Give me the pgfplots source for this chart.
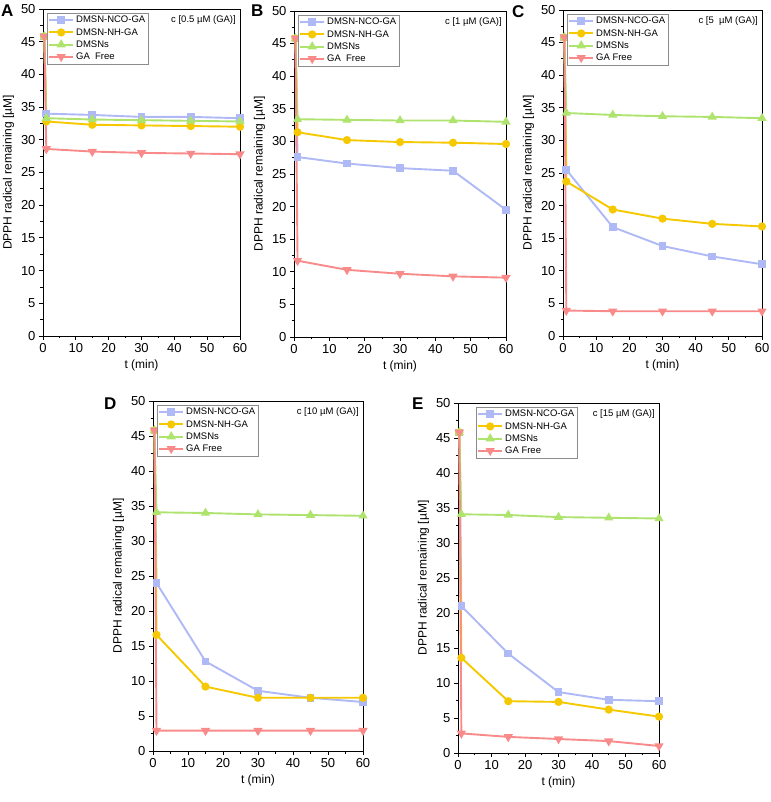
\documentclass[border=0pt]{standalone}
\usepackage{fontspec}
\setmainfont{Liberation Sans}
\usepackage{pgfplots}
\pgfplotsset{compat=1.18}

\definecolor{cNCO}{HTML}{AEB9F5}
\definecolor{cNH}{HTML}{F5C800}
\definecolor{cDM}{HTML}{AEE36E}
\definecolor{cGA}{HTML}{F98A8A}

\pgfplotsset{
  panel/.style={
    scale only axis,
    anchor=south west,
    xmin=0, xmax=60, ymin=0, ymax=50,
    xtick={0,10,...,60}, ytick={0,5,...,50},
    minor x tick num=1, minor y tick num=1,
    tick align=outside, tick pos=left,
    major tick length=4pt, minor tick length=2.5pt,
    tick style={black, line width=0.8pt},
    axis line style={black, line width=0.9pt},
    /pgf/number format/assume math mode=true,
    ticklabel style={font=\fontsize{13}{15}\selectfont},
    label style={font=\fontsize{12}{14}\selectfont},
    xlabel={t (min)},
    ylabel={DPPH radical remaining [µM]},
    legend cell align=left,
    legend style={at={(0,1)}, anchor=north west, xshift=4pt, yshift=-4pt,
      draw=black!45, line width=0.5pt, inner sep=1pt,
      font=\fontsize{9.5}{10}\selectfont, row sep=0pt},
    legend image code/.code={
      \draw[mark repeat=2, mark phase=2, #1]
        plot coordinates {(0pt,0pt) (12pt,0pt) (24pt,0pt)};},
    every axis plot/.append style={line width=1.9pt},
  },
  nco/.style={color=cNCO, mark=square*, mark size=2.9pt},
  nh/.style={color=cNH, mark=*, mark size=3.1pt},
  dm/.style={color=cDM, mark=triangle*, mark size=3.5pt},
  ga/.style={color=cGA, mark=triangle*, mark size=3.5pt,
    every mark/.append style={rotate=180}},
}
\newcommand{\cnote}[1]{\node[anchor=north east, font=\fontsize{9.5}{10}\selectfont, inner sep=0pt]
  at (rel axis cs:1,1) [xshift=-4pt, yshift=-6pt] {#1};}
\newcommand{\plet}[1]{\fontsize{17}{18}\selectfont\bfseries #1}

\begin{document}
\begin{tikzpicture}
\useasboundingbox (0,0) rectangle (770pt,802pt);

% A
\begin{axis}[panel, at={(43pt,466pt)}, width=197pt, height=327pt]
\addplot[nco] coordinates {(0.4,45.8) (1,34.0) (15,33.8) (30,33.5) (45,33.5) (60,33.3)};
\addplot[nh] coordinates {(0.4,45.8) (1,32.8) (15,32.3) (30,32.2) (45,32.1) (60,32.0)};
\addplot[dm] coordinates {(0.4,45.8) (1,33.3) (15,33.1) (30,33.0) (45,32.9) (60,32.8)};
\addplot[ga] coordinates {(0.4,45.8) (1,28.6) (15,28.2) (30,28.0) (45,27.9) (60,27.8)};
\legend{DMSN-NCO-GA, DMSN-NH-GA, DMSNs, GA\ \ Free}
\cnote{c [0.5 µM (GA)]}
\end{axis}

% B
\begin{axis}[panel, at={(294pt,465pt)}, width=212pt, height=326pt]
\addplot[nco] coordinates {(0.4,45.8) (1,27.6) (15,26.6) (30,25.9) (45,25.5) (60,19.5)};
\addplot[nh] coordinates {(0.4,45.8) (1,31.4) (15,30.2) (30,29.9) (45,29.8) (60,29.6)};
\addplot[dm] coordinates {(0.4,45.8) (1,33.4) (15,33.3) (30,33.2) (45,33.2) (60,33.0)};
\addplot[ga] coordinates {(0.4,45.8) (1,11.7) (15,10.3) (30,9.7) (45,9.3) (60,9.1)};
\legend{DMSN-NCO-GA, DMSN-NH-GA, DMSNs, GA\ \ Free}
\cnote{c [1 µM (GA)]}
\end{axis}

% C
\begin{axis}[panel, at={(563pt,466pt)}, width=199pt, height=326pt]
\addplot[nco] coordinates {(0.4,45.8) (1,25.5) (15,16.7) (30,13.8) (45,12.2) (60,11.0)};
\addplot[nh] coordinates {(0.4,45.8) (1,23.7) (15,19.4) (30,18.0) (45,17.2) (60,16.8)};
\addplot[dm] coordinates {(0.4,45.8) (1,34.2) (15,33.9) (30,33.7) (45,33.6) (60,33.4)};
\addplot[ga] coordinates {(0.4,45.8) (1,3.9) (15,3.8) (30,3.8) (45,3.8) (60,3.8)};
\legend{DMSN-NCO-GA, DMSN-NH-GA, DMSNs, GA Free}
\cnote{c [5\ \ µM (GA)]}
\end{axis}

% D
\begin{axis}[panel, at={(153pt,51pt)}, width=210pt, height=350pt]
\addplot[nco] coordinates {(0.4,45.8) (1,24.0) (15,12.8) (30,8.6) (45,7.6) (60,7.0)};
\addplot[nh] coordinates {(0.4,45.8) (1,16.6) (15,9.2) (30,7.6) (45,7.6) (60,7.6)};
\addplot[dm] coordinates {(0.4,45.8) (1,34.1) (15,34.0) (30,33.8) (45,33.7) (60,33.6)};
\addplot[ga] coordinates {(0.4,45.8) (1,2.9) (15,2.9) (30,2.9) (45,2.9) (60,2.9)};
\legend{DMSN-NCO-GA, DMSN-NH-GA, DMSNs, GA Free}
\cnote{c [10 µM (GA)]}
\end{axis}

% E
\begin{axis}[panel, at={(458pt,49pt)}, width=201pt, height=350pt,
  legend style={xshift=14pt}]
\addplot[nco] coordinates {(0.4,45.8) (1,21.0) (15,14.2) (30,8.7) (45,7.6) (60,7.4)};
\addplot[nh] coordinates {(0.4,45.8) (1,13.6) (15,7.4) (30,7.3) (45,6.2) (60,5.2)};
\addplot[dm] coordinates {(0.4,45.8) (1,34.1) (15,34.0) (30,33.7) (45,33.6) (60,33.5)};
\addplot[ga] coordinates {(0.4,45.8) (1,2.8) (15,2.3) (30,2.0) (45,1.7) (60,1.0)};
\legend{DMSN-NCO-GA, DMSN-NH-GA, DMSNs, GA Free}
\cnote{c [15 µM (GA)]}
\end{axis}

\node[anchor=west, inner sep=0pt] at (1pt,791pt) {\plet{A}};
\node[anchor=west, inner sep=0pt] at (251pt,791pt) {\plet{B}};
\node[anchor=west, inner sep=0pt] at (512pt,790pt) {\plet{C}};
\node[anchor=west, inner sep=0pt] at (104pt,398.5pt) {\plet{D}};
\node[anchor=west, inner sep=0pt] at (412pt,398pt) {\plet{E}};
\end{tikzpicture}
\end{document}
